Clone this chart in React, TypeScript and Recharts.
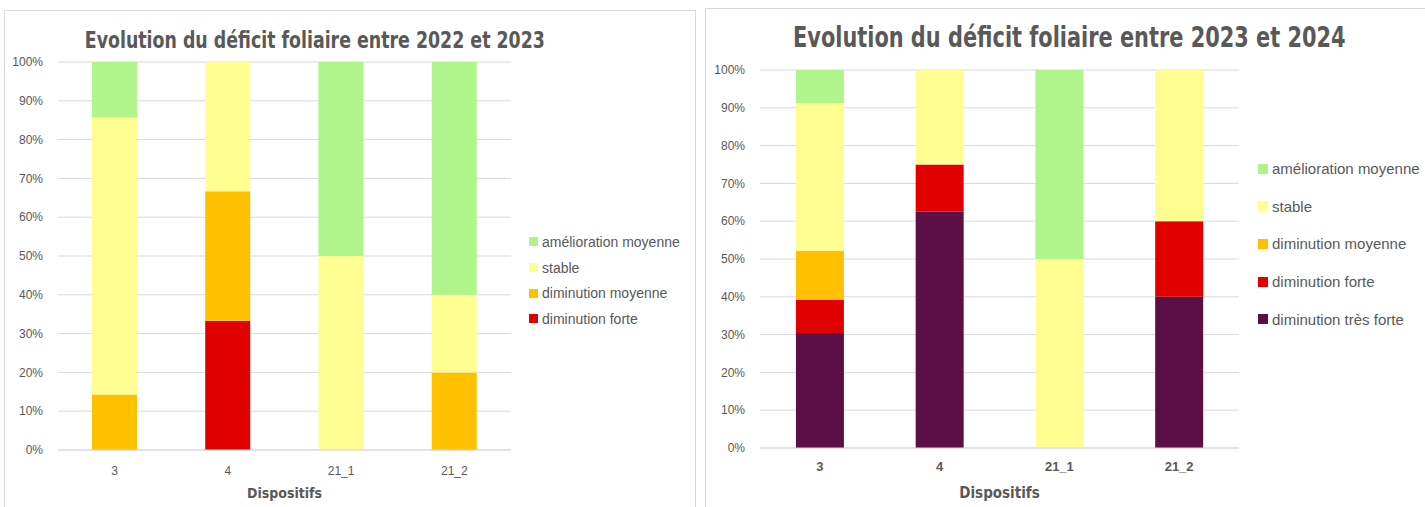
import React from 'react';
import { BarChart, Bar, XAxis, YAxis, CartesianGrid } from 'recharts';

const categories = ['3', '4', '21_1', '21_2'];

// 2022 -> 2023 (percent of each dispositif)
const leftForte = [0, 33.33, 0, 0];
const leftMoyenne = [14.29, 33.33, 0, 20];
const leftStable = [71.43, 33.34, 50, 20];
const leftAmelioration = [14.28, 0, 50, 60];

// 2023 -> 2024
const rightTresForte = [30.43, 62.5, 0, 40];
const rightForte = [8.7, 12.5, 0, 20];
const rightMoyenne = [13.04, 0, 0, 0];
const rightStable = [39.13, 25, 50, 40];
const rightAmelioration = [8.7, 0, 50, 0];

const yTicks = [0, 10, 20, 30, 40, 50, 60, 70, 80, 90, 100];

const seriesNames = {
  amel: 'amélioration moyenne',
  stable: 'stable',
  moy: 'diminution moyenne',
  forte: 'diminution forte',
  tres: 'diminution très forte',
};
const colors: Record<string, string> = {
  amel: '#AFF58B',
  stable: '#FFFF91',
  moy: '#FFC000',
  forte: '#E00000',
  tres: '#5C0E47',
};

const leftData = categories.map((c, i) => ({
  cat: c,
  forte: leftForte[i],
  moy: leftMoyenne[i],
  stable: leftStable[i],
  amel: leftAmelioration[i],
}));

const rightData = categories.map((c, i) => ({
  cat: c,
  tres: rightTresForte[i],
  forte: rightForte[i],
  moy: rightMoyenne[i],
  stable: rightStable[i],
  amel: rightAmelioration[i],
}));

const leftKeys = ['forte', 'moy', 'stable', 'amel'];
const rightKeys = ['tres', 'forte', 'moy', 'stable', 'amel'];

const textColor = '#595959';
const gridColor = '#D9D9D9';
const baseFont = '"Liberation Sans", Arial, sans-serif';
const titleFont = '"Liberation Sans Narrow", "DejaVu Sans Condensed", "Liberation Sans", sans-serif';

function LegendBox({ keys, left, top, gap, fontSize, box }: { keys: string[]; left: number; top: number; gap: number; fontSize: number; box: number }) {
  const ordered = [...keys].reverse();
  return (
    <div style={{ position: 'absolute', left, top, fontFamily: baseFont, fontSize, color: textColor }}>
      {ordered.map((k) => (
        <div key={k} style={{ height: gap, display: 'flex', alignItems: 'center', whiteSpace: 'nowrap' }}>
          <span style={{ display: 'inline-block', width: box, height: box, background: colors[k], marginRight: 4 }} />
          <span>{(seriesNames as any)[k]}</span>
        </div>
      ))}
    </div>
  );
}

function Title({ text, cx, top, fontSize, scale }: { text: string; cx: number; top: number; fontSize: number; scale: number }) {
  return (
    <div style={{ position: 'absolute', left: cx - 400, top, width: 800, textAlign: 'center', whiteSpace: 'nowrap' }}>
      <span style={{ display: 'inline-block', transform: `scaleX(${scale})`, transformOrigin: 'center', fontFamily: titleFont, fontWeight: 'bold', fontSize, color: textColor, lineHeight: 1 }}>
        {text}
      </span>
    </div>
  );
}

export default function App() {
  return (
    <div style={{ position: 'fixed', left: 0, top: 0, width: 1425, height: 507, background: '#fff', overflow: 'hidden' }}>
      {/* Left panel */}
      <div style={{ position: 'absolute', left: 4, top: 10, width: 692, height: 510, border: '1px solid #D9D9D9', boxSizing: 'border-box' }} />
      <div style={{ position: 'absolute', left: 4, top: 10 }}>
        <BarChart width={693} height={497} data={leftData} margin={{ top: 52, right: 186, left: 0, bottom: 0 }} barCategoryGap="30%">
          <CartesianGrid vertical={false} stroke={gridColor} />
          <XAxis dataKey="cat" height={57} tickLine={false} tickSize={0} tickMargin={16} stroke={gridColor}
            tick={{ fill: textColor, fontSize: 12, fontFamily: baseFont }}
            label={{ value: 'Dispositifs', position: 'insideBottom', offset: 9, fill: textColor, fontSize: 14, fontWeight: 'bold', fontFamily: titleFont }} />
          <YAxis width={54} domain={[0, 100]} ticks={yTicks} allowDataOverflow axisLine={false} tickLine={false} tickSize={0} tickMargin={15}
            tickFormatter={(v) => `${v}%`} tick={{ fill: textColor, fontSize: 12, fontFamily: baseFont }} />
          {leftKeys.map((k) => (
            <Bar key={k} dataKey={k} stackId="a" fill={colors[k]} name={(seriesNames as any)[k]} isAnimationActive={false} />
          ))}
        </BarChart>
      </div>
      <Title text="Evolution du déficit foliaire entre 2022 et 2023" cx={315} top={29} fontSize={23} scale={0.84} />
      <LegendBox keys={leftKeys} left={529} top={229} gap={25.7} fontSize={14} box={9} />

      {/* Right panel */}
      <div style={{ position: 'absolute', left: 705, top: 8, width: 730, height: 510, border: '1px solid #D9D9D9', boxSizing: 'border-box' }} />
      <div style={{ position: 'absolute', left: 705, top: 8 }}>
        <BarChart width={720} height={499} data={rightData} margin={{ top: 62, right: 186, left: 0, bottom: 0 }} barCategoryGap="30%">
          <CartesianGrid vertical={false} stroke={gridColor} />
          <XAxis dataKey="cat" height={59} tickLine={false} tickSize={0} tickMargin={14} stroke={gridColor}
            tick={{ fill: textColor, fontSize: 13, fontWeight: 'bold', fontFamily: baseFont }}
            label={{ value: 'Dispositifs', position: 'insideBottom', offset: 9, fill: textColor, fontSize: 15, fontWeight: 'bold', fontFamily: titleFont }} />
          <YAxis width={55} domain={[0, 100]} ticks={yTicks} allowDataOverflow axisLine={false} tickLine={false} tickSize={0} tickMargin={15}
            tickFormatter={(v) => `${v}%`} tick={{ fill: textColor, fontSize: 12, fontFamily: baseFont }} />
          {rightKeys.map((k) => (
            <Bar key={k} dataKey={k} stackId="a" fill={colors[k]} name={(seriesNames as any)[k]} isAnimationActive={false} />
          ))}
        </BarChart>
      </div>
      <Title text="Evolution du déficit foliaire entre 2023 et 2024" cx={1069} top={23} fontSize={29} scale={0.8} />
      <LegendBox keys={rightKeys} left={1258} top={150} gap={37.6} fontSize={15} box={10} />
    </div>
  );
}
